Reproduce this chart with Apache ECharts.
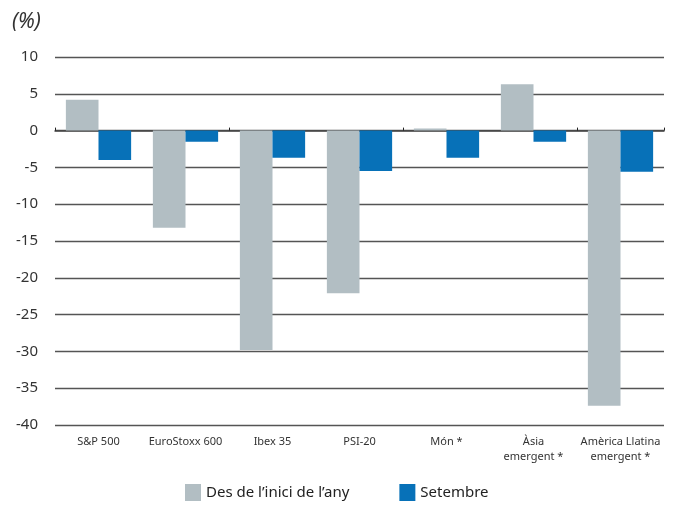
<!DOCTYPE html>
<html>
<head>
<meta charset="utf-8">
<script src="https://cdn.jsdelivr.net/npm/echarts@6/dist/echarts.min.js"></script>
<style>
  html, body { margin: 0; padding: 0; background: #fff; }
  #chart { width: 674px; height: 507px; }
</style>
</head>
<body>
<div id="chart"></div>
<script>
const categories = ["S&P 500", "EuroStoxx 600", "Ibex 35", "PSI-20", "Món *", "Àsia\nemergent *", "Amèrica Llatina\nemergent *"];
const ytdValues = [4.2, -13.2, -29.8, -22.1, 0.3, 6.3, -37.4];
const septValues = [-4.0, -1.5, -3.7, -5.5, -3.7, -1.5, -5.6];
const seriesNames = ["Des de l’inici de l’any", "Setembre"];

const chart = echarts.init(document.getElementById("chart"));
const font = "'Noto Sans', sans-serif";

chart.setOption({
  animation: false,
  textStyle: { fontFamily: font },
  title: {
    text: "(%)",
    left: 7,
    top: 7,
    textStyle: { fontSize: 21, fontStyle: "italic", fontWeight: "normal", color: "#333", fontFamily: font }
  },
  legend: {
    data: seriesNames,
    left: 180,
    bottom: 1,
    itemWidth: 16,
    itemHeight: 17,
    itemGap: 50,
    icon: "rect",
    textStyle: { fontSize: 15, color: "#222", fontFamily: font }
  },
  grid: { left: 55, right: 10, top: 57, bottom: 82 },
  xAxis: [
    {
      type: "category",
      data: categories,
      axisLine: { onZero: true, lineStyle: { color: "#444", width: 1.5 } },
      axisTick: { show: true, inside: true, length: 3, lineStyle: { color: "#222" } },
      axisLabel: { show: false }
    },
    {
      type: "category",
      data: categories,
      position: "bottom",
      axisLine: { show: false, onZero: false },
      axisTick: { show: false },
      axisLabel: { interval: 0, fontSize: 11, color: "#333", margin: 9, lineHeight: 15, fontFamily: font }
    }
  ],
  yAxis: {
    type: "value",
    min: -40,
    max: 10,
    interval: 5,
    axisLine: { show: false },
    axisTick: { show: false },
    axisLabel: { fontSize: 15, color: "#333", margin: 17, fontFamily: font },
    splitLine: { lineStyle: { color: "#555", width: 1.4 } }
  },
  series: [
    {
      name: seriesNames[0],
      type: "bar",
      data: ytdValues,
      barGap: "0%",
      barCategoryGap: "25%",
      itemStyle: { color: "#b2bec3" }
    },
    {
      name: seriesNames[1],
      type: "bar",
      data: septValues,
      itemStyle: { color: "#0771b8" }
    }
  ]
});
</script>
</body>
</html>
